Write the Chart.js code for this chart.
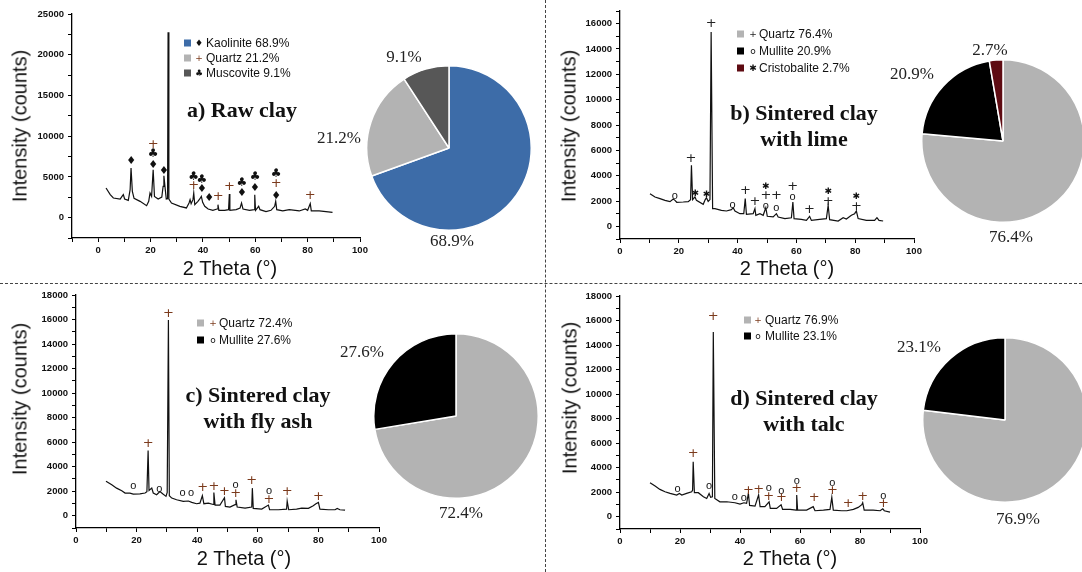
<!DOCTYPE html>
<html>
<head>
<meta charset="utf-8">
<script src="https://cdn.jsdelivr.net/npm/chart.js@4.4.1/dist/chart.umd.min.js"></script>
<style>
  body { margin: 0; background: #fff; }
  #fig { position: relative; width: 1082px; height: 572px; overflow: hidden; font-family: "Liberation Sans", Arial, sans-serif; color: #111; }
  .abs { position: absolute; }
  .ttl { font-family: "Liberation Serif", "Times New Roman", serif; font-weight: bold; font-size: 22px; color: #111; white-space: nowrap; transform: translate(-50%, -50%); text-align: center; line-height: 26px; }
  .pct { font-family: "Liberation Serif", "Times New Roman", serif; font-size: 17px; color: #222; white-space: nowrap; transform: translate(-50%, -50%); }
  .xt { font-size: 20px; white-space: nowrap; transform: translate(-50%, -50%); }
  .yt { font-size: 20px; white-space: nowrap; transform: translate(-50%, -50%) rotate(-90deg); }
  .leg { font-size: 12px; white-space: nowrap; transform: translateY(-50%); line-height: 14px; }
  .sq { width: 7px; height: 7px; transform: translateY(-50%); }
  .sym { font-family: "DejaVu Sans", sans-serif; font-size: 9px; transform: translate(-50%, -50%); line-height: 12px; }
  .hdash { left: 0; top: 283px; width: 1082px; height: 0; border-top: 1px dashed #444; }
  .vdash { left: 545px; top: 0; width: 0; height: 572px; border-left: 1px dashed #444; }
</style>
</head>
<body>
<div id="fig">
  <div class="abs hdash"></div>
  <div class="abs vdash"></div>
</div>
<script>
// ---- a) raw clay ----
const aTheta  = [3.0, 4.6, 5.8, 8.4, 9.1, 9.6, 10.1, 11.5, 12.2, 12.55, 13.05, 13.7, 16.0, 18.5, 19.3, 19.8, 20.4, 21.0, 21.5, 22.9, 24.3, 24.8, 25.1, 25.5, 26.0, 26.5, 26.7, 27.0, 28.0, 31.2, 33.7, 34.7, 35.1, 35.5, 36.2, 36.5, 36.9, 38.1, 38.8, 39.4, 39.9, 40.7, 42.0, 43.8, 45.4, 45.75, 46.1, 48.3, 49.8, 50.1, 50.3, 52.7, 54.2, 54.75, 55.3, 57.8, 59.6, 59.8, 60.1, 61.3, 61.8, 64.1, 66.0, 67.4, 67.8, 68.2, 70.5, 73.0, 76.8, 79.1, 80.0, 81.0, 81.4, 84.4, 87.0, 89.5];
const aCounts = [3640, 2820, 2410, 2290, 2610, 2820, 2290, 2120, 3430, 6090, 3230, 2370, 2000, 1470, 2000, 3020, 2610, 5880, 2610, 2290, 2530, 3840, 5150, 3840, 2290, 2330, 22750, 2290, 1800, 1390, 1190, 1800, 2210, 1720, 2210, 3020, 1590, 2000, 2290, 2610, 1880, 1390, 1060, 900, 1060, 1590, 900, 900, 980, 2900, 900, 980, 1190, 1800, 1060, 900, 980, 2820, 900, 1390, 980, 740, 900, 1390, 2000, 980, 820, 980, 820, 1060, 900, 1720, 820, 820, 740, 650];
const aMarks  = [[12.6, 6900, '♦'], [21.0, 8950, '+'], [21.0, 7850, '♣'], [21.0, 6500, '♦'], [25.1, 5750, '♦'],
  [36.5, 5050, '♣'], [36.5, 3900, '+'], [39.6, 4650, '♣'], [39.6, 3450, '♦'], [42.4, 2400, '♦'], [45.8, 2600, '+'],
  [50.1, 3750, '+'], [54.9, 4250, '♣'], [54.9, 3000, '♦'], [59.9, 5050, '♣'], [59.9, 3650, '♦'],
  [68.0, 5400, '♣'], [68.0, 4150, '+'], [68.0, 2700, '♦'], [81.0, 2700, '+']];
const aPhases  = ['Kaolinite', 'Quartz', 'Muscovite'];
const aShares  = [68.9, 21.2, 9.1];
const aSymbols = ['♦', '+', '♣'];

// ---- b) sintered clay with lime ----
const bTheta  = [10.2, 11.9, 13.6, 15.3, 17.0, 18.1, 18.7, 19.3, 21.5, 23.2, 24.0, 24.3, 24.7, 25.5, 26.0, 28.3, 29.0, 29.4, 30.0, 30.6, 31.0, 31.5, 32.3, 34.5, 36.2, 37.9, 38.5, 39.1, 40.8, 42.1, 42.6, 43.0, 45.3, 45.9, 46.2, 47.6, 48.7, 49.6, 50.1, 52.1, 53.2, 53.8, 56.1, 58.3, 58.8, 59.2, 61.7, 63.4, 64.5, 65.1, 67.9, 70.2, 70.8, 71.3, 74.2, 75.9, 77.0, 78.7, 79.8, 80.4, 81.0, 83.8, 86.6, 87.4, 88.1, 89.5];
const bCounts = [2580, 2320, 2190, 2050, 1950, 2160, 2050, 1900, 1920, 1950, 2110, 4820, 2110, 2320, 2050, 1740, 2110, 2260, 1970, 2110, 15350, 1400, 1400, 1260, 1210, 1320, 1470, 1210, 1000, 1000, 2190, 950, 1000, 1400, 870, 1000, 870, 1470, 790, 740, 1000, 740, 610, 680, 1920, 610, 550, 470, 790, 470, 550, 610, 1660, 530, 420, 680, 580, 870, 1000, 1210, 610, 470, 470, 680, 470, 420];
const bMarks  = [[18.6, 2370, 'o'], [24.1, 5350, '+'], [25.6, 2600, '✱'], [29.4, 2500, '✱'], [31.0, 16000, '+'],
  [38.3, 1660, 'o'], [42.7, 2850, '+'], [45.9, 1950, '+'], [49.6, 1600, 'o'], [49.6, 2400, '+'], [49.6, 3150, '✱'],
  [53.2, 2400, '+'], [53.2, 1480, 'o'], [58.7, 2330, 'o'], [58.7, 3100, '+'], [64.4, 1350, '+'],
  [70.8, 1980, '+'], [70.8, 2720, '✱'], [80.4, 1590, '+'], [80.4, 2320, '✱']];
const bPhases  = ['Quartz', 'Mullite', 'Cristobalite'];
const bShares  = [76.4, 20.9, 2.7];
const bSymbols = ['+', 'o', '✱'];

// ---- c) sintered clay with fly ash ----
const cTheta  = [9.9, 11.8, 13.4, 15.1, 16.2, 17.8, 18.9, 21.1, 22.8, 23.4, 23.8, 24.1, 25.0, 25.5, 26.6, 27.7, 28.6, 29.7, 30.1, 30.5, 30.8, 31.6, 33.2, 35.4, 37.1, 38.2, 39.8, 40.9, 41.7, 42.2, 43.7, 45.3, 45.5, 45.9, 47.5, 49.0, 49.3, 50.8, 52.5, 52.8, 53.2, 55.8, 58.0, 58.2, 58.5, 61.3, 63.5, 63.9, 66.8, 69.5, 69.7, 70.2, 72.8, 74.5, 76.7, 78.3, 79.2, 80.0, 80.5, 83.3, 85.5, 86.2, 87.1, 88.8];
const cCounts = [2820, 2530, 2250, 2040, 1850, 1850, 1770, 1790, 1850, 1960, 5320, 2060, 2250, 1850, 1710, 1980, 1790, 1580, 1900, 15960, 1630, 1440, 1300, 1170, 1200, 1090, 980, 1030, 1630, 980, 1030, 920, 1900, 870, 870, 1470, 760, 710, 900, 1300, 710, 620, 710, 2250, 600, 540, 870, 490, 490, 540, 1200, 490, 540, 620, 600, 820, 980, 1090, 540, 490, 490, 600, 490, 460];
const cMarks  = [[18.9, 2390, 'o'], [23.8, 5920, '+'], [27.5, 2170, 'o'], [30.5, 16500, '+'], [35.2, 1850, 'o'],
  [38.0, 1850, 'o'], [41.8, 2330, '+'], [45.5, 2390, '+'], [49.0, 1980, '+'], [52.7, 1770, '+'], [52.7, 2530, 'o'],
  [58.0, 2880, '+'], [63.7, 1300, '+'], [63.7, 2060, 'o'], [69.7, 1980, '+'], [80.0, 1520, '+']];
const cPhases  = ['Quartz', 'Mullite'];
const cShares  = [72.4, 27.6];
const cSymbols = ['+', 'o'];

// ---- d) sintered clay with talc ----
const dTheta  = [10.0, 11.7, 13.3, 15.0, 16.7, 18.9, 19.8, 20.6, 22.2, 23.9, 24.2, 24.4, 24.8, 26.1, 27.8, 28.9, 29.7, 30.2, 30.8, 31.1, 31.6, 33.3, 35.6, 38.3, 40.0, 41.3, 42.2, 42.8, 43.2, 45.0, 46.2, 46.7, 48.3, 49.7, 50.1, 52.2, 53.7, 54.2, 56.7, 58.7, 58.9, 59.2, 62.2, 64.4, 65.0, 67.8, 70.0, 70.6, 71.1, 73.9, 75.6, 77.8, 79.4, 80.6, 80.9, 81.4, 84.4, 86.7, 87.6, 88.1, 90.0];
const dCounts = [2770, 2500, 2230, 2040, 1900, 1770, 1900, 1770, 1900, 2040, 2170, 4480, 1960, 1960, 1630, 1490, 1900, 1580, 1630, 15070, 1490, 1220, 1220, 1140, 1030, 1140, 1090, 1900, 920, 870, 1770, 820, 820, 1220, 680, 680, 980, 600, 600, 540, 1770, 540, 540, 820, 490, 540, 600, 1580, 540, 490, 490, 600, 760, 980, 1140, 540, 540, 490, 650, 490, 380];
const dMarks  = [[19.2, 2230, 'o'], [24.4, 5160, '+'], [29.7, 2500, 'o'], [31.1, 16340, '+'], [38.3, 1580, 'o'],
  [41.3, 1520, 'o'], [42.8, 2170, '+'], [46.2, 2230, '+'], [49.6, 2310, 'o'], [49.6, 1680, '+'], [53.8, 2120, 'o'],
  [53.8, 1580, '+'], [58.9, 2900, 'o'], [58.9, 2310, '+'], [64.7, 1580, '+'], [70.8, 2720, 'o'], [70.8, 2120, '+'],
  [76.1, 1090, '+'], [80.9, 1680, '+'], [87.8, 1680, 'o'], [87.8, 1090, '+']];
const dPhases  = ['Quartz', 'Mullite'];
const dShares  = [76.9, 23.1];
const dSymbols = ['+', 'o'];

const BROWN = '#7b3a1c';
const GREY = '#b3b3b3';

Chart.defaults.font.family = '"Liberation Sans", Arial, sans-serif';
Chart.defaults.color = '#111';
Chart.defaults.animation = false;

const fig = document.getElementById('fig');

function put(cls, html, left, top, extra) {
  const d = document.createElement('div');
  d.className = 'abs ' + cls;
  d.innerHTML = html;
  d.style.left = left + 'px';
  d.style.top = top + 'px';
  if (extra) Object.assign(d.style, extra);
  fig.appendChild(d);
  return d;
}

function canvasAt(l, t, w, h) {
  const c = document.createElement('canvas');
  c.width = w; c.height = h;
  c.className = 'abs';
  c.style.left = l + 'px'; c.style.top = t + 'px';
  c.style.width = w + 'px'; c.style.height = h + 'px';
  fig.appendChild(c);
  return c;
}

const markFonts = {
  '+': '13px "DejaVu Sans"',
  '♦': '11px "DejaVu Sans"',
  '♣': '12px "DejaVu Sans"',
  'o': '11px "Liberation Sans"',
  '✱': '9px "DejaVu Sans"'
};

// peak labels drawn at data coordinates
function marksPlugin(items, plusColor) {
  return {
    id: 'marks',
    afterDatasetsDraw(chart) {
      const { ctx, scales: { x, y } } = chart;
      ctx.save();
      ctx.textAlign = 'center';
      ctx.textBaseline = 'middle';
      items.forEach(([t, v, s]) => {
        ctx.fillStyle = s === '+' ? plusColor : '#111';
        ctx.font = markFonts[s];
        ctx.fillText(s, x.getPixelForValue(t), y.getPixelForValue(v));
      });
      ctx.restore();
    }
  };
}

// box = canvas rect, plot = chart area in page px
function xrd(box, plot, theta, counts, marks, plusColor, yr, xr) {
  const cv = canvasAt(box.l, box.t, box.w, box.h);
  const axisLine = { color: '#000', width: 1.3 };
  const grid = { drawOnChartArea: false, color: '#000', tickLength: 4, tickWidth: 1 };
  const tickFont = { size: 9.5, weight: 'bold' };
  new Chart(cv, {
    type: 'line',
    data: {
      datasets: [{
        data: theta.map((t, i) => ({ x: t, y: counts[i] })),
        borderColor: '#111',
        borderWidth: 1.2,
        pointRadius: 0,
        tension: 0,
        fill: false
      }]
    },
    options: {
      responsive: false,
      events: [],
      layout: { padding: { left: 0, top: plot.top - box.t, right: box.l + box.w - plot.right, bottom: 0 } },
      plugins: { legend: { display: false }, tooltip: { enabled: false } },
      scales: {
        x: {
          type: 'linear', min: xr[0], max: xr[1],
          border: axisLine, grid,
          ticks: { stepSize: 10, autoSkip: false, maxRotation: 0, padding: 3, font: tickFont,
                   callback: v => (v >= 0 && v % 20 === 0) ? v : '' },
          afterFit: s => { s.height = box.t + box.h - plot.bottom; }
        },
        y: {
          min: yr[0], max: yr[1],
          border: axisLine, grid,
          ticks: { stepSize: yr[2] / 2, autoSkip: false, padding: 4, font: tickFont,
                   callback: v => (v >= 0 && v % yr[2] === 0) ? v : '' },
          afterFit: s => { s.width = plot.left - box.l; }
        }
      }
    },
    plugins: [marksPlugin(marks, plusColor)]
  });
}

function pie(cx, cy, r, shares, colors) {
  const size = 2 * r + 2;
  const cv = canvasAt(cx - size / 2, cy - size / 2, size, size);
  new Chart(cv, {
    type: 'pie',
    data: { datasets: [{ data: shares, backgroundColor: colors, borderColor: '#fff', borderWidth: 1.5 }] },
    options: {
      responsive: false, events: [],
      plugins: { legend: { display: false }, tooltip: { enabled: false } }
    }
  });
}

function legend(rows, sqX, symX, textX, phases, shares, symbols, colors, plusColor) {
  phases.forEach((p, i) => {
    put('sq', '', sqX, rows[i], { background: colors[i] });
    put('sym', symbols[i], symX, rows[i], { color: symbols[i] === '+' ? plusColor : '#111' });
    put('leg', p + ' ' + shares[i] + '%', textX, rows[i]);
  });
}

function labels(shares, spots) {
  shares.forEach((s, i) => put('pct', s + '%', spots[i][0], spots[i][1]));
}

// panel a
const aColors = ['#3d6ca8', GREY, '#575757'];
xrd({ l: 0, t: 0, w: 385, h: 283 }, { left: 72, top: 14, right: 360, bottom: 238 },
    aTheta, aCounts, aMarks, BROWN, [-2500, 25000, 5000], [-10, 100]);
pie(449, 148, 82, aShares, aColors);
legend([43, 58, 73], 184, 199, 206, aPhases, aShares, aSymbols, aColors, BROWN);
labels(aShares, [[452, 241], [339, 138], [404, 57]]);
put('ttl', 'a) Raw clay', 242, 110);
put('yt', 'Intensity (counts)', 20, 126);
put('xt', '2 Theta (°)', 230, 268);

// panel b
const bColors = [GREY, '#000', '#5e0b12'];
xrd({ l: 548, t: 0, w: 390, h: 283 }, { left: 620, top: 11, right: 914, bottom: 239 },
    bTheta, bCounts, bMarks, '#222', [-1000, 17000, 2000], [0, 100]);
pie(1003, 141, 81, bShares, bColors);
legend([34, 51, 68], 737, 753, 759, bPhases, bShares, bSymbols, bColors, '#222');
labels(bShares, [[1011, 237], [912, 74], [990, 50]]);
put('ttl', 'b) Sintered clay<br>with lime', 804, 126);
put('yt', 'Intensity (counts)', 569, 126);
put('xt', '2 Theta (°)', 787, 268);

// panel c
const cColors = [GREY, '#000'];
xrd({ l: 0, t: 283, w: 400, h: 289 }, { left: 76, top: 295, right: 379, bottom: 528 },
    cTheta, cCounts, cMarks, BROWN, [-1000, 18000, 2000], [0, 100]);
pie(456, 416, 82, cShares, cColors);
legend([323, 340], 197, 213, 219, cPhases, cShares, cSymbols, cColors, BROWN);
labels(cShares, [[461, 513], [362, 352]]);
put('ttl', 'c) Sintered clay<br>with fly ash', 258, 408);
put('yt', 'Intensity (counts)', 20, 399);
put('xt', '2 Theta (°)', 244, 558);

// panel d
const dColors = [GREY, '#000'];
xrd({ l: 548, t: 283, w: 395, h: 289 }, { left: 620, top: 296, right: 920, bottom: 529 },
    dTheta, dCounts, dMarks, BROWN, [-1000, 18000, 2000], [0, 100]);
pie(1005, 420, 82, dShares, dColors);
legend([320, 336], 744, 758, 765, dPhases, dShares, dSymbols, dColors, BROWN);
labels(dShares, [[1018, 519], [919, 347]]);
put('ttl', 'd) Sintered clay<br>with talc', 804, 411);
put('yt', 'Intensity (counts)', 570, 398);
put('xt', '2 Theta (°)', 790, 558);
</script>
</body>
</html>
